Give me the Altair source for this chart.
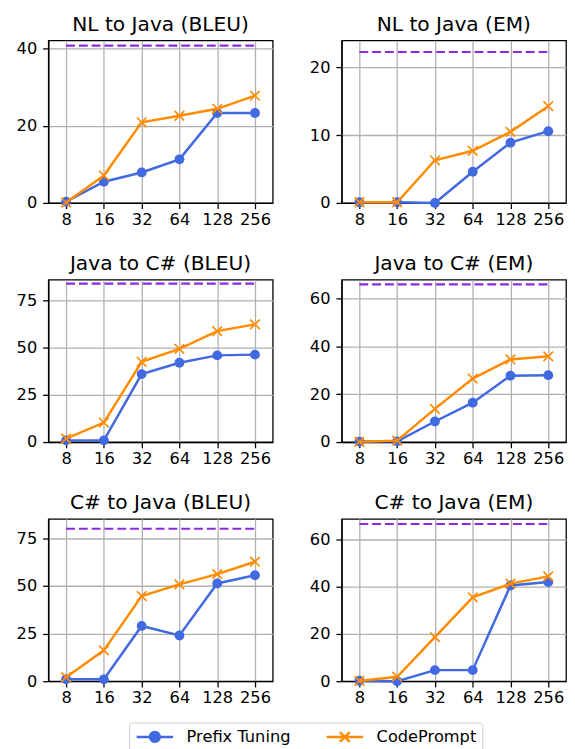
import altair as alt
import pandas as pd

sizes = [8, 16, 32, 64, 128, 256]
titles = ["NL to Java (BLEU)", "NL to Java (EM)",
          "Java to C# (BLEU)", "Java to C# (EM)",
          "C# to Java (BLEU)", "C# to Java (EM)"]
series = ["Prefix Tuning", "CodePrompt"]

prefix = [
    [0.3, 5.5, 7.9, 11.3, 23.3, 23.3],
    [0.1, 0.1, 0.0, 4.6, 8.9, 10.6],
    [0.9, 0.9, 35.9, 41.9, 45.8, 46.2],
    [0.2, 0.3, 8.6, 16.5, 27.8, 28.0],
    [1.0, 1.0, 29.0, 24.0, 51.3, 55.6],
    [0.2, 0.0, 4.7, 4.7, 40.6, 42.1],
]
codeprompt = [
    [0.1, 7.1, 20.9, 22.6, 24.4, 27.8],
    [0.1, 0.1, 6.3, 7.7, 10.5, 14.3],
    [1.8, 10.3, 42.4, 49.2, 58.6, 62.2],
    [0.1, 0.6, 13.9, 26.6, 34.6, 35.9],
    [2.1, 16.2, 44.7, 50.8, 56.2, 62.7],
    [0.1, 1.9, 18.7, 35.6, 41.4, 44.5],
]
full_ft = [40.8, 22.3, 83.7, 66.0, 80.0, 66.7]
y_max = [42.1, 24.0, 85.8, 68.0, 85.2, 68.9]
y_ticks = [[0, 20, 40], [0, 10, 20], [0, 25, 50, 75],
           [0, 20, 40, 60], [0, 25, 50, 75], [0, 20, 40, 60]]

BLUE = "#4169E1"
ORANGE = "#FF8C00"
PURPLE = "#8A2BE2"
FONT = "DejaVu Sans"
XPATH = "M-1,-1L1,1M-1,1L1,-1"
LEG_CIRCLE = "M-3.7,0H3.7M1,0A1,1 0 1 1 -1,0A1,1 0 1 1 1,0Z"
LEG_X = "M-3.7,0H3.7M-1,-1L1,1M-1,1L1,-1"

xdom = [str(s) for s in sizes]

W, H = 228, 165


def panel(i):
    rows = []
    for s, vals in zip(series, [prefix[i], codeprompt[i]]):
        for x, v in zip(sizes, vals):
            rows.append({"size": str(x), "value": v, "series": s})
    df = pd.DataFrame(rows)

    xscale = alt.Scale(type="point", domain=xdom, padding=0.47)
    xaxis = alt.Axis(title=None, labelAngle=0, grid=True, labelPadding=3)
    yscale = alt.Scale(domain=[0, y_max[i]], nice=False, zero=True)
    yaxis = alt.Axis(title=None, values=y_ticks[i], grid=True,
                     minExtent=40, maxExtent=40, labelPadding=6)

    base = alt.Chart(df)
    x = alt.X("size:O", sort=xdom, scale=xscale, axis=xaxis)
    y = alt.Y("value:Q", scale=yscale, axis=yaxis)

    b = base.transform_filter(alt.datum.series == series[0])
    o = base.transform_filter(alt.datum.series == series[1])
    layers = [
        b.mark_line(color=BLUE, strokeWidth=2.5).encode(x=x, y=y),
        b.mark_point(shape="circle", filled=True, size=100, color=BLUE,
                     opacity=1).encode(x=x, y=y),
        o.mark_line(color=ORANGE, strokeWidth=2.5).encode(x=x, y=y),
        o.mark_point(shape=XPATH, filled=False, size=95, strokeWidth=1.7,
                     color=ORANGE, opacity=1).encode(x=x, y=y),
    ]
    ref = pd.DataFrame({"x0": [xdom[0]], "x1": [xdom[-1]], "y": [full_ft[i]]})
    layers.append(
        alt.Chart(ref).mark_rule(color=PURPLE, strokeWidth=2.2,
                                 strokeDash=[9, 4]).encode(
            x=alt.X("x0:O", sort=xdom, scale=xscale, axis=xaxis),
            x2="x1",
            y=alt.Y("y:Q", scale=yscale, axis=yaxis),
        )
    )
    if i == 0:
        leg_df = pd.DataFrame({"series": series})
        legend = alt.Legend(
            orient="none", legendX=82, legendY=693, direction="horizontal",
            title=None, labelFont=FONT, labelFontSize=16.5, labelColor="black",
            symbolSize=100, symbolStrokeWidth=2.5, symbolOffset=12,
            labelOffset=24, columnPadding=30, padding=6,
            strokeColor="#cccccc", fillColor="white", cornerRadius=3,
        )
        layers.append(
            alt.Chart(leg_df).transform_filter("false").mark_point(
                filled=True, opacity=1, size=100, strokeWidth=2.5
            ).encode(
                color=alt.Color("series:N", scale=alt.Scale(domain=series, range=[BLUE, ORANGE]), legend=legend),
                stroke=alt.Stroke("series:N", scale=alt.Scale(domain=series, range=[BLUE, ORANGE]), legend=legend),
                shape=alt.Shape("series:N", scale=alt.Scale(domain=series, range=[LEG_CIRCLE, LEG_X]), legend=legend),
            )
        )
    return alt.layer(*layers).properties(
        width=W, height=H,
        title=alt.TitleParams(titles[i], frame="group", font=FONT,
                              fontSize=20.5, fontWeight="normal",
                              color="black", offset=5),
    )


rows_ = []
for r in range(3):
    rows_.append(alt.hconcat(panel(2 * r), panel(2 * r + 1), spacing=28))

chart = alt.vconcat(*rows_, spacing=25).properties(
    padding={"left": 0, "top": 0, "right": 0, "bottom": 0}
).configure_axis(
    labelFont=FONT, labelFontSize=16.5, labelColor="black",
    tickColor="black", tickSize=5.8, tickWidth=1.3,
    domain=True, domainColor="black", domainWidth=1.3,
    gridColor="#b0b0b0", gridWidth=1.3,
).configure_view(stroke="black", strokeWidth=1.3)

chart.save("out.html", embed_options={"renderer": "svg", "actions": False})
